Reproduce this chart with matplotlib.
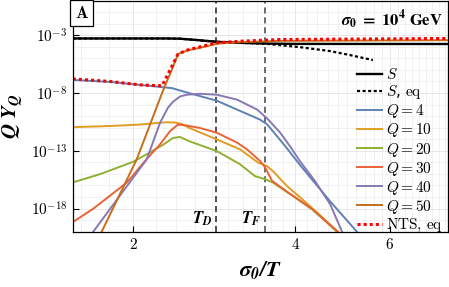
import numpy as np
import matplotlib.pyplot as plt
from matplotlib.ticker import FixedLocator, NullFormatter

plt.rcParams['mathtext.fontset'] = 'cm'

# sigma0/T and log10(Q Y_Q)
x_S = [1.543, 2.30, 2.44, 2.6, 2.86, 3.16, 3.5, 4.0, 7.7]
lg_S = [-3.28, -3.28, -3.30, -3.40, -3.57, -3.66, -3.72, -3.75, -3.76]

x_Seq = [1.543, 2.30, 2.44, 2.6, 2.86, 3.16, 3.5, 4.08, 4.64, 5.06, 5.58]
lg_Seq = [-3.28, -3.28, -3.30, -3.40, -3.57, -3.66, -3.72, -4.03, -4.37, -4.72, -5.15]

x_q4 = [1.543, 1.81, 2.058, 2.36, 2.54, 2.86, 3.12, 3.44, 3.55, 3.81, 4.08, 4.64, 5.30]
lg_q4 = [-6.87, -7.04, -7.30, -7.58, -8.01, -8.67, -9.44, -10.30, -10.73, -12.45, -14.21, -17.35, -20.4]

x_q10 = [1.543, 1.81, 2.058, 2.307, 2.391, 2.464, 2.54, 2.86, 3.159, 3.412, 3.541, 3.638, 3.863, 4.084, 4.387, 4.85]
lg_q10 = [-10.96, -10.86, -10.73, -10.53, -10.56, -10.69, -11.02, -12.02, -12.88, -14.02, -14.31, -14.77, -16.06, -17.03, -18.32, -20.2]

x_q20 = [1.543, 1.734, 2.0, 2.148, 2.271, 2.371, 2.443, 2.54, 2.86, 3.159, 3.368, 3.516, 3.638, 3.88, 4.30, 4.85]
lg_q20 = [-15.74, -15.03, -13.95, -13.14, -12.49, -11.89, -11.81, -12.17, -13.03, -14.17, -15.20, -15.46, -15.76, -16.64, -18.07, -20.25]

x_q30 = [1.543, 1.683, 1.81, 1.947, 2.103, 2.242, 2.340, 2.422, 2.517, 2.661, 2.86, 3.12, 3.255, 3.44, 3.516, 3.622, 3.879, 4.30, 4.85]
lg_q30 = [-19.18, -18.03, -16.89, -15.74, -13.88, -12.45, -11.31, -10.73, -10.82, -11.03, -11.44, -12.30, -12.88, -13.88, -14.43, -15.60, -16.60, -18.03, -20.2]

x_q40 = [1.66, 1.685, 2.118, 2.242, 2.320, 2.371, 2.443, 2.517, 2.661, 2.86, 3.12, 3.40, 3.55, 3.749, 3.913, 4.084, 4.355, 4.644, 4.92]
lg_q40 = [-20.4, -20.0, -13.75, -10.59, -9.27, -8.76, -8.30, -8.15, -8.07, -8.15, -8.58, -9.44, -10.22, -11.42, -12.62, -13.91, -15.63, -17.61, -20.3]

x_q50 = [1.73, 1.747, 2.029, 2.274, 2.357, 2.422, 2.517, 2.742, 2.86, 3.159, 3.749, 7.7]
lg_q50 = [-20.3, -20.0, -13.75, -7.73, -6.01, -4.63, -4.33, -3.95, -3.73, -3.60, -3.49, -3.43]

x_nts = [1.543, 1.81, 2.058, 2.261, 2.301, 2.361, 2.422, 2.517, 2.742, 2.86, 3.159, 3.749, 7.7]
lg_nts = [-6.78, -7.00, -7.30, -7.38, -6.69, -5.66, -4.63, -4.29, -3.86, -3.66, -3.52, -3.37, -3.28]

T_D = 2.85
T_F = 3.51

colors = ['#5E81B5', '#E19C24', '#8FB032', '#EB6235', '#8778B3', '#C56E1A']

fig = plt.figure(figsize=(4.49, 2.87), dpi=100)
ax = fig.add_axes([0.162, 0.193, 0.836, 0.805])

p = lambda v: 10.0 ** np.array(v)

ax.plot(x_S, p(lg_S), color='black', lw=1.7, label=r'$S$')
ax.plot(x_Seq, p(lg_Seq), color='black', lw=1.6, dashes=(1.4, 1.1), label=r'$S$, $\mathrm{eq}$')
ax.plot(x_q4, p(lg_q4), color=colors[0], lw=1.4, label=r'$Q=4$')
ax.plot(x_q10, p(lg_q10), color=colors[1], lw=1.4, label=r'$Q=10$')
ax.plot(x_q20, p(lg_q20), color=colors[2], lw=1.4, label=r'$Q=20$')
ax.plot(x_q30, p(lg_q30), color=colors[3], lw=1.4, label=r'$Q=30$')
ax.plot(x_q40, p(lg_q40), color=colors[4], lw=1.4, label=r'$Q=40$')
ax.plot(x_q50, p(lg_q50), color=colors[5], lw=1.4, label=r'$Q=50$')
ax.plot(x_nts, p(lg_nts), color='red', lw=2.2, dashes=(1.0, 1.0), label=r'$\mathrm{NTS},\,\mathrm{eq}$')

ax.axvline(T_D, color='#222222', lw=1.1, dashes=(4, 2.5), zorder=1)
ax.axvline(T_F, color='#444444', lw=1.1, dashes=(4, 2.5), zorder=1)

ax.set_xscale('log')
ax.set_yscale('log')
ax.set_xlim(1.543, 7.7)
ax.set_ylim(1e-20, 1)

ax.xaxis.set_major_locator(FixedLocator([2, 4, 6]))
ax.xaxis.set_minor_locator(FixedLocator([v for v in np.arange(1.6, 7.7, 0.2) if abs(v - 2) > 0.05 and abs(v - 4) > 0.05 and abs(v - 6) > 0.05]))
ax.set_xticklabels([r'$2$', r'$4$', r'$6$'])
ax.xaxis.set_minor_formatter(NullFormatter())

ax.yaxis.set_major_locator(FixedLocator([1e-3, 1e-8, 1e-13, 1e-18]))
ax.yaxis.set_minor_locator(FixedLocator([10.0 ** k for k in range(-20, 1)]))
ax.set_yticklabels([r'$10^{-3}$', r'$10^{-8}$', r'$10^{-13}$', r'$10^{-18}$'])
ax.yaxis.set_minor_formatter(NullFormatter())

ax.tick_params(which='major', direction='in', length=4, width=0.8, labelsize=11, pad=4)
ax.tick_params(which='minor', length=0)
ax.grid(which='major', color='#e2e2e2', lw=0.6, zorder=0)
ax.grid(which='minor', color='#ececec', lw=0.5, zorder=0)
ax.set_axisbelow(True)
for s in ax.spines.values():
    s.set_linewidth(0.9)

ax.set_xlabel(r'$\mathbfit{\sigma_0/T}$', fontsize=16, math_fontfamily='stix', labelpad=5)
ax.set_ylabel(r'$\mathbfit{Q\ Y_Q}$', fontsize=15, math_fontfamily='stix', labelpad=4)

ax.text(0.985, 0.915, r'$\mathbfit{\sigma}_{\mathbf{0}}\mathbf{\ =\ 10^{4}\ GeV}$', transform=ax.transAxes,
        ha='right', va='center', fontsize=12, math_fontfamily='stix')
ax.text(T_D * 0.985, 1.3e-19, r'$\mathbfit{T_D}$', ha='right', va='center', fontsize=12, math_fontfamily='stix')
ax.text(T_F * 0.985, 1.3e-19, r'$\mathbfit{T_F}$', ha='right', va='center', fontsize=12, math_fontfamily='stix')
ax.text(0.005, 0.985, r'$\mathbf{A}$', transform=ax.transAxes, ha='left', va='top', fontsize=12,
        bbox=dict(boxstyle='square,pad=0.25', fc='white', ec='black', lw=0.9))

ax.legend(loc='lower right', bbox_to_anchor=(1.012, -0.05), frameon=False, fontsize=11,
          handlelength=1.65, handletextpad=0.3, labelspacing=0.07, borderaxespad=0.2)

fig.savefig('out.png', dpi=100)
